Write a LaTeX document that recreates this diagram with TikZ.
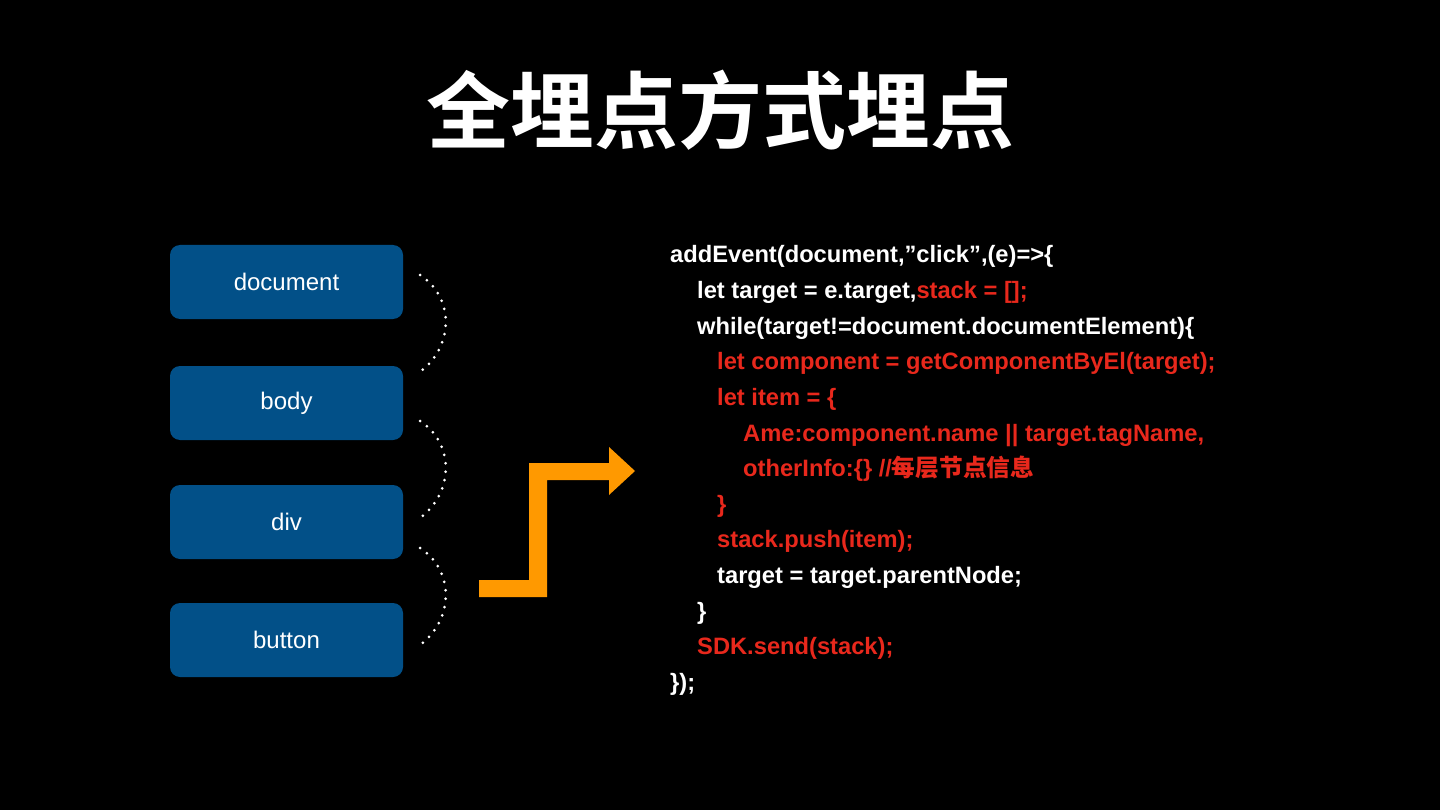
\documentclass[tikz,border=0pt]{standalone}
\usepackage{fontspec}
\setmainfont{Liberation Sans}
\newfontfamily\cjk{Noto Sans CJK SC}
\newfontfamily\cjkbold{Noto Sans CJK SC Bold}
\definecolor{boxblue}{RGB}{2,80,136}
\definecolor{codered}{RGB}{232,40,28}
\definecolor{arroworange}{RGB}{255,153,0}
\tikzset{
  tagbox/.style={fill=boxblue, rounded corners=10pt, minimum width=233pt, minimum height=74pt, inner sep=0pt, text=white, font=\fontsize{24}{26}\selectfont},
  codeline/.style={anchor=base west, inner sep=0pt, text=white, font=\bfseries\fontsize{23.7}{26}\selectfont},
  red/.style={text=codered},
  dotarc/.style={draw=white, line width=3pt, line cap=round, dash pattern=on 0pt off 8.5pt},
}
\begin{document}
\begin{tikzpicture}[x=1pt,y=-1pt]
\fill[black] (0,0) rectangle (1440,810);
\useasboundingbox (0,0) rectangle (1440,810);
% title
\node[text=white, inner sep=0pt, font=\cjkbold\fontsize{84}{90}\selectfont] (title) at (720,110) {全埋点方式埋点};
% boxes
\node[tagbox] (doc) at (286.5,282) {document};
\node[tagbox] (body) at (286.5,403) {body};
\node[tagbox] (div) at (286.5,522) {div};
\node[tagbox] (btn) at (286.5,640) {button};
% dotted arcs
\coordinate (a1) at ([xshift=17pt,yshift=7pt]doc.east);
\coordinate (b1) at ([xshift=14pt,yshift=-8pt]body.north east);
\coordinate (a2) at ([xshift=17pt,yshift=-18pt]body.east);
\coordinate (b2) at ([xshift=14pt,yshift=2pt]div.east);
\coordinate (a3) at ([xshift=17pt,yshift=-26pt]div.east);
\coordinate (b3) at ([xshift=14pt,yshift=-7pt]btn.east);
\draw[dotarc] (a1) .. controls ++(36,24) and ++(36,-24) .. (b1);
\draw[dotarc] (a2) .. controls ++(36,24) and ++(36,-24) .. (b2);
\draw[dotarc] (a3) .. controls ++(36,24) and ++(36,-24) .. (b3);
% orange arrow
\fill[arroworange] (479,580) -- (529,580) -- (529,463) -- (609,463) -- (609,447) -- (635,471) -- (609,495) -- (609,480) -- (547,480) -- (547,597) -- (479,597) -- cycle;
% code
\node[codeline] (l1) at (670,263) {addEvent(document,”click”,(e)=>\{};
\node[codeline] (l2) at (697,298.6) {let target = e.target,\textcolor{codered}{stack = [];}};
\node[codeline] (l3) at (697,334.2) {while(target!=document.documentElement)\{};
\node[codeline,red] (l4) at (717,369.8) {let component = getComponentByEl(target);};
\node[codeline,red] (l5) at (717,405.4) {let item = \{};
\node[codeline,red] (l6) at (743,441) {Ame:component.name || target.tagName,};
\node[codeline,red] (l7) at (743,476.6) {otherInfo:\{\} //{\cjkbold 每层节点信息}};
\node[codeline,red] (l8) at (717,512.2) {\}};
\node[codeline,red] (l9) at (717,547.8) {stack.push(item);};
\node[codeline] (l10) at (717,583.4) {target = target.parentNode;};
\node[codeline] (l11) at (697,619) {\}};
\node[codeline,red] (l12) at (697,654.6) {SDK.send(stack);};
\node[codeline] (l13) at (670,690.2) {\});};
\end{tikzpicture}
\end{document}
